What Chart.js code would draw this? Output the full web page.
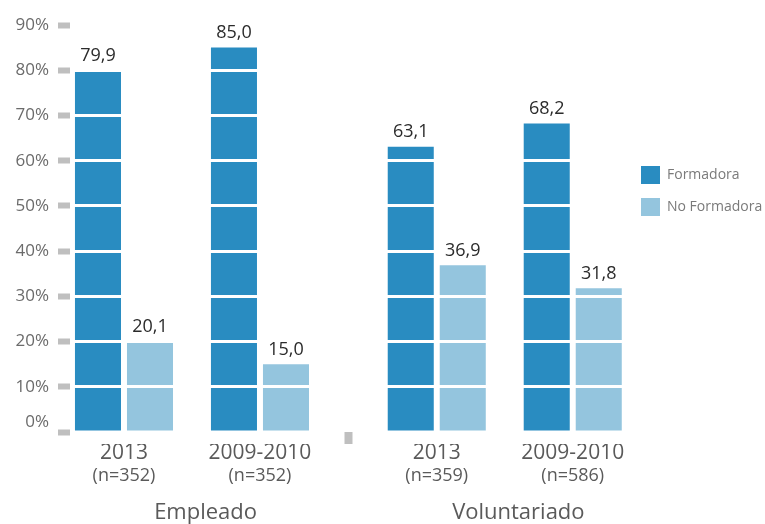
<!DOCTYPE html>
<html>
<head>
<meta charset="utf-8">
<script src="https://cdn.jsdelivr.net/npm/chart.js@4.4.1/dist/chart.umd.min.js"></script>
<style>
  html, body { margin: 0; padding: 0; background: #fff; }
</style>
</head>
<body>
<canvas id="chart" width="765" height="524"></canvas>
<script>
var groups = ['Empleado', 'Voluntariado'];
var years = ['2013', '2009-2010', '2013', '2009-2010'];
var sampleSizes = ['(n=352)', '(n=352)', '(n=359)', '(n=586)'];
var groupOfBar = [0, 0, 1, 1];
var formadora = [79.9, 85.0, 63.1, 68.2];
var noFormadora = [20.1, 15.0, 36.9, 31.8];
var yTicks = [0, 10, 20, 30, 40, 50, 60, 70, 80, 90];

// x positions in "slot" units: one unit between the two years of a group
var GROUP_STEP = 2.3;
var slots = years.map(function(y, i) { return groupOfBar[i] * GROUP_STEP + (i % 2); });
var groupCenters = groups.map(function(g, gi) { return gi * GROUP_STEP + 0.5 + 0.1; });
var separator = (slots[1] + slots[2]) / 2;
var X_MIN = -0.397, X_MAX = 3.699;

var FONT = '"Open Sans", sans-serif';
var DARK = '#298cc1', LIGHT = '#94c5de', TICK_GREY = '#bfbfbf';

function fixedTicks(values) {
  return function(scale) { scale.ticks = values.map(function(v) { return { value: v }; }); };
}

// one row of labels under the plot; height fixed so the rows stack predictably
function bottomAxis(weight, values, labels, font, padding, height) {
  return {
    type: 'linear', position: 'bottom', weight: weight,
    min: X_MIN, max: X_MAX, offset: false, bounds: 'data',
    grid: { display: false, drawTicks: false, offset: false },
    border: { display: false },
    afterBuildTicks: fixedTicks(values),
    afterFit: function(scale) { scale.height = height; },
    ticks: {
      autoSkip: false, maxRotation: 0, padding: padding,
      color: '#5a5a5a', font: font,
      callback: function(v, i) { return labels[i]; }
    }
  };
}

var valueLabels = {
  id: 'valueLabels',
  afterDraw: function(chart) {
    var ctx = chart.ctx;
    ctx.save();
    ctx.font = '18px ' + FONT;
    ctx.fillStyle = '#2b2b2b';
    ctx.textAlign = 'center';
    ctx.textBaseline = 'alphabetic';
    chart.data.datasets.forEach(function(ds, di) {
      chart.getDatasetMeta(di).data.forEach(function(bar, i) {
        ctx.fillText(ds.data[i].y.toFixed(1).replace('.', ','), bar.x, bar.y - 9.5);
      });
    });
    ctx.restore();
  }
};

var ctx = document.getElementById('chart').getContext('2d');
var chart = new Chart(ctx, {
  type: 'bar',
  data: {
    datasets: [{
      label: 'Formadora',
      data: formadora.map(function(v, i) { return { x: slots[i], y: v }; }),
      backgroundColor: DARK
    }, {
      label: 'No Formadora',
      data: noFormadora.map(function(v, i) { return { x: slots[i], y: v }; }),
      backgroundColor: LIGHT
    }]
  },
  options: {
    responsive: false,
    animation: false,
    events: [],
    categoryPercentage: 0.765,
    barPercentage: 0.885,
    layout: { padding: { top: 25, right: 0, bottom: 0, left: 0 } },
    plugins: {
      tooltip: { enabled: false },
      legend: {
        position: 'right',
        align: 'start',
        maxWidth: 138,
        title: { display: true, text: '', padding: { top: 112.6, bottom: 0 } },
        labels: {
          boxWidth: 19, boxHeight: 18, padding: 14,
          color: '#7a7a7a', font: { family: FONT, size: 14 }
        }
      }
    },
    scales: {
      xSep: {
        type: 'linear', position: 'bottom', weight: 0,
        min: X_MIN, max: X_MAX, offset: false, bounds: 'data',
        grid: { display: true, offset: false, drawOnChartArea: false, drawTicks: true,
                tickLength: 12, tickWidth: 8, tickColor: TICK_GREY },
        border: { display: false },
        afterBuildTicks: fixedTicks([separator]),
        afterFit: function(scale) { scale.height = 12; },
        ticks: { display: false }
      },
      x: bottomAxis(1, slots, years, { family: FONT, size: 21, lineHeight: 1.2 }, -3.5, 20),
      xN: bottomAxis(2, slots, sampleSizes, { family: FONT, size: 18, lineHeight: 1.2 }, 1, 22),
      xGroup: bottomAxis(3, groupCenters, groups, { family: FONT, size: 22, lineHeight: 1 }, 16, 38),
      y: {
        type: 'linear', min: 0, max: 90,
        afterBuildTicks: fixedTicks(yTicks),
        afterFit: function(scale) { scale.width = 70; },
        border: { display: false },
        grid: {
          z: 1,
          color: function(c) { return c.tick && c.tick.value === 0 ? 'rgba(0,0,0,0)' : '#ffffff'; },
          lineWidth: 3,
          drawTicks: true, tickLength: 12, tickWidth: 6, tickColor: TICK_GREY
        },
        ticks: {
          padding: 9, color: '#6b6b6b', font: { family: FONT, size: 17 },
          // the 0% label sits half a line above its tick mark
          callback: function(v) { return v === 0 ? [v + '%', ''] : v + '%'; }
        }
      }
    }
  },
  plugins: [valueLabels]
});
</script>
</body>
</html>
